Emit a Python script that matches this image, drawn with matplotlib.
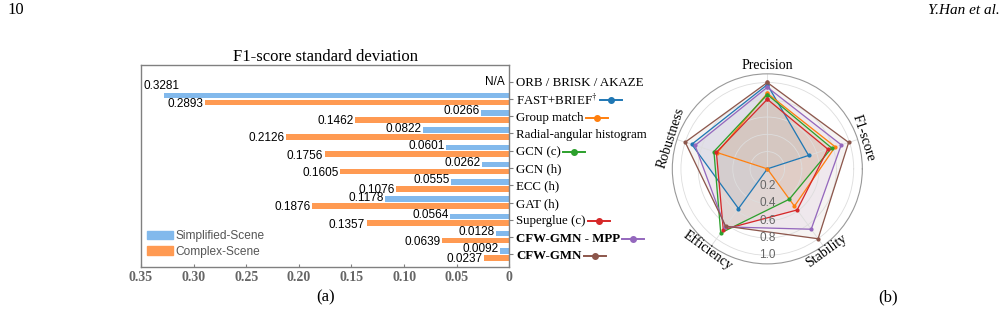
import numpy as np
import matplotlib
matplotlib.use("Agg")
from matplotlib import pyplot as plt
from matplotlib.lines import Line2D
from matplotlib.patches import Patch

plt.rcParams["mathtext.fontset"] = "stix"

# ---- bar chart data (F1-score standard deviation) ----
methods = ["ORB / BRISK / AKAZE", "FAST+BRIEF$^{\\dagger}$", "Group match",
           "Radial-angular histogram", "GCN (c)", "GCN (h)", "ECC (h)", "GAT (h)",
           "Superglue (c)", "CFW-GMN - MPP", "CFW-GMN"]
simplified = [np.nan, 0.3281, 0.0266, 0.0822, 0.0601, 0.0262, 0.0555, 0.1178,
              0.0564, 0.0128, 0.0092]
complex_scene = [np.nan, 0.2893, 0.1462, 0.2126, 0.1756, 0.1605, 0.1076, 0.1876,
                 0.1357, 0.0639, 0.0237]
bold_methods = ["CFW-GMN - MPP", "CFW-GMN"]
xticks = [0.35, 0.30, 0.25, 0.20, 0.15, 0.10, 0.05, 0]
xticklabels = ["0.35", "0.30", "0.25", "0.20", "0.15", "0.10", "0.05", "0"]

# ---- radar data ----
radar_axes = ["Precision", "F1-score", "Stability", "Efficiency", "Robustness"]
radar_angles_deg = [90, 18, 306, 234, 162]
fast_brief = [0.975, 0.503, 0.0, 0.568, 0.92]
group_match = [0.875, 0.826, 0.534, 0.0, 0.61]
gcn_c = [0.86, 0.783, 0.434, 0.918, 0.65]
superglue_c = [0.806, 0.737, 0.588, 0.868, 0.62]
cfw_gmn_mpp = [0.945, 0.90, 0.864, 0.83, 0.88]
cfw_gmn = [1.0, 0.99, 1.0, 0.82, 1.0]
radar_series = [fast_brief, group_match, gcn_c, superglue_c, cfw_gmn_mpp, cfw_gmn]
radar_methods = ["FAST+BRIEF$^{\\dagger}$", "Group match", "GCN (c)",
                 "Superglue (c)", "CFW-GMN - MPP", "CFW-GMN"]
radar_colors = ["tab:blue", "tab:orange", "tab:green", "tab:red", "tab:purple", "tab:brown"]
radial_ticks = [0.2, 0.4, 0.6, 0.8, 1.0]

SERIF = "Liberation Serif"
SANS = "Liberation Sans"
BLUE = "#82B9EC"
ORANGE = "#FF9A52"
GREY = "#808080"

W, H = 1006, 320
fig = plt.figure(figsize=(W / 100, H / 100), dpi=100)

# ================= bar chart =================
ax = fig.add_axes([0.1402, 0.1666, 0.3661, 0.6303])
y = np.arange(len(methods))
ax.barh(y - 0.2, simplified, height=0.32, color=BLUE, clip_on=False)
ax.barh(y + 0.2, complex_scene, height=0.33, color=ORANGE, clip_on=False)
ax.set_xlim(0.35, 0)
ax.set_ylim(10.72, -0.97)

for i, (s, c) in enumerate(zip(simplified, complex_scene)):
    if np.isnan(s):
        ax.annotate("N/A", (0, i), xytext=(-3, 0), textcoords="offset points",
                    ha="right", va="center", fontsize=8.5, family=SANS)
        continue
    if s > 0.3:
        # too long: label sits above the bar, at the left edge
        ax.text(0.3478, i - 0.75, f"{s:.4f}", ha="left", va="center",
                fontsize=8.5, family=SANS)
    else:
        ax.annotate(f"{s:.4f}", (s, i - 0.2), xytext=(-1, 1), textcoords="offset points",
                    ha="right", va="center", fontsize=8.5, family=SANS)
    ax.annotate(f"{c:.4f}", (c, i + 0.2), xytext=(-1, -1), textcoords="offset points",
                ha="right", va="center", fontsize=8.5, family=SANS)

ax.yaxis.tick_right()
ax.set_yticks(y)
ax.set_yticklabels(methods, family=SERIF, fontsize=9.3)
for lab in ax.get_yticklabels():
    if lab.get_text() in bold_methods:
        lab.set_fontweight("bold")
ax.tick_params(axis="y", direction="out", length=3, width=0.8, color=GREY, pad=2)
ax.set_xticks(xticks)
ax.set_xticklabels(xticklabels, family=SERIF, fontweight="bold", fontsize=10, color="#666666")
ax.tick_params(axis="x", direction="in", length=2, width=0.8, color=GREY, pad=3)
for sp in ax.spines.values():
    sp.set_color(GREY)
    sp.set_linewidth(1)
ax.set_title("F1-score standard deviation", family=SERIF, fontsize=12, pad=2)

handles = [Patch(color=BLUE), Patch(color=ORANGE)]
leg = ax.legend(handles, ["Simplified-Scene", "Complex-Scene"], loc="lower left",
                bbox_to_anchor=(0.015, 0.045), frameon=False, borderpad=0,
                borderaxespad=0, handlelength=2.2, handleheight=0.75,
                handletextpad=0.25, labelspacing=0.28,
                prop={"family": SANS, "size": 8.6})
for t in leg.get_texts():
    t.set_color("#555555")

# ================= radar chart =================
ax2 = fig.add_axes([0.6683, 0.1753, 0.1889, 0.594], projection="polar")
angles = np.deg2rad(radar_angles_deg)
closed = np.append(angles, angles[0])
for vals, col in zip(radar_series, radar_colors):
    v = np.append(vals, vals[0])
    ax2.plot(closed, v, color=col, lw=0.9, marker="o", ms=2)
    ax2.fill(closed, v, color=col, alpha=0.07)
ax2.set_thetalim(0, 2 * np.pi)
ax2.set_ylim(0, 1.1)
ax2.set_xticks(angles)
ax2.set_xticklabels([])
ax2.set_yticks(radial_ticks)
ax2.set_yticklabels([])
ax2.grid(color="#dddddd", lw=0.6)
ax2.spines["polar"].set_color("#999999")
ax2.spines["polar"].set_linewidth(0.8)

rotations = [0, -72, 36, -36, 72]
for name, a, rot in zip(radar_axes, angles, rotations):
    r = 1.2 if name == "Precision" else 1.17
    ax2.text(a, r, name, rotation=rot, rotation_mode="anchor", ha="center",
             va="center", family=SERIF, fontsize=10)
for r in radial_ticks:
    ax2.text(1.5 * np.pi, r, f"{r:.1f}", ha="center", va="center",
             family=SANS, fontsize=8.5, color="#666666")

# ---- little line legends behind the method names ----
fig.canvas.draw()
renderer = fig.canvas.get_renderer()
for lab in ax.get_yticklabels():
    if lab.get_text() in radar_methods:
        col = radar_colors[radar_methods.index(lab.get_text())]
        bb = lab.get_window_extent(renderer)
        x0 = bb.x1 + 2
        yc = (bb.y0 + bb.y1) / 2
        fig.add_artist(Line2D([x0 / W, (x0 + 22) / W], [yc / H, yc / H],
                              transform=fig.transFigure, color=col, lw=1.4))
        fig.add_artist(Line2D([(x0 + 11) / W], [yc / H], transform=fig.transFigure,
                              color=col, marker="o", ms=4))

# ---- page furniture ----
fig.text(0.007, 0.968, "10", family=SERIF, fontsize=12, va="center")
fig.text(0.994, 0.968, "Y.Han et al.", family=SERIF, style="italic", fontsize=11,
         ha="right", va="center")
fig.text(0.324, 0.072, "(a)", family=SERIF, fontsize=12, ha="center", va="center")
fig.text(0.883, 0.072, "(b)", family=SERIF, fontsize=12, ha="center", va="center")

fig.savefig("out.png", dpi=100)
